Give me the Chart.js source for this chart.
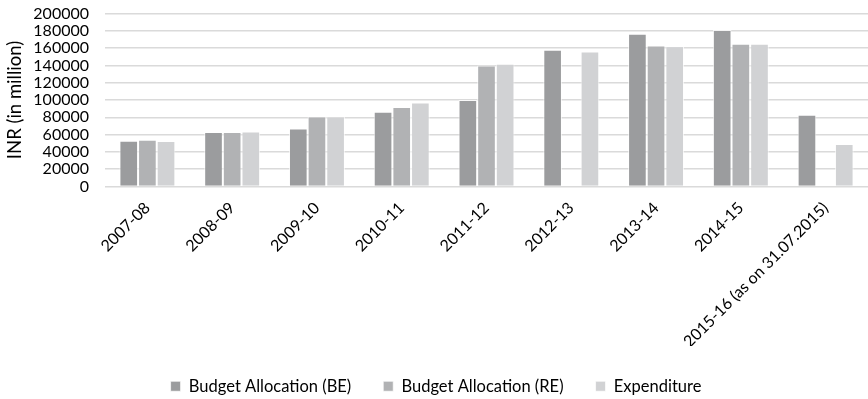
<!DOCTYPE html>
<html>
<head>
<meta charset="utf-8">
<script src="https://cdn.jsdelivr.net/npm/chart.js@4"></script>
<style>
  html, body { margin: 0; padding: 0; background: #fff; }
  #wrap { width: 868px; height: 399px; }
</style>
</head>
<body>
<div id="wrap"><canvas id="budgetChart"></canvas></div>
<script>
// 年度ラベル
const years = [
    "2007-08", "2008-09", "2009-10", "2010-11", "2011-12",
    "2012-13", "2013-14", "2014-15", "2015-16 (as on 31.07.2015)"
];

// 予算 (BE) / 修正予算 (RE) / 支出 — INR (in million)
const budgetBE = [53000, 63000, 67000, 86500, 100000, 158000, 176500, 181000, 83000];
const budgetRE = [54000, 63000, 81000, 92000, 140000, null, 163000, 165000, null];
const expenditure = [52500, 63500, 81000, 97000, 142000, 156000, 162000, 165000, 49000];

// 縦軸の目盛り
const yMin = 0;
const yMax = 200000;
const yStep = 20000;

const FONT = "Lato, 'Open Sans', sans-serif";

function makeDataset(label, data, color) {
    return {
        label: label,
        data: data,
        backgroundColor: color,
        borderColor: "rgba(255,255,255,0.7)",
        borderWidth: 1,
        borderSkipped: "bottom",
        barPercentage: 1.0,
        categoryPercentage: 0.66
    };
}

const canvas = document.getElementById("budgetChart");
canvas.chartInstance = new Chart(canvas, {
    type: "bar",
    data: {
        labels: years,
        datasets: [
            makeDataset("Budget Allocation (BE)", budgetBE, "#9b9c9e"),
            makeDataset("Budget Allocation (RE)", budgetRE, "#b1b2b4"),
            makeDataset("Expenditure", expenditure, "#d1d2d4")
        ]
    },
    options: {
        responsive: true,
        maintainAspectRatio: false,
        animation: false,
        layout: { padding: { top: 13.5, right: 0, bottom: -5.5, left: 4 } },
        plugins: {
            legend: {
                position: "bottom",
                labels: {
                    boxWidth: 10,
                    boxHeight: 10,
                    padding: 32,
                    color: "#000",
                    font: { family: FONT, size: 16.5 }
                }
            },
            tooltip: { enabled: false }
        },
        scales: {
            y: {
                min: yMin,
                max: yMax,
                ticks: {
                    stepSize: yStep,
                    autoSkip: false,
                    color: "#000",
                    padding: 16,
                    font: { family: FONT, size: 16 },
                    callback: (value) => String(value)
                },
                border: { display: false },
                grid: { color: "#dadada", lineWidth: 1.5, drawTicks: false },
                title: {
                    display: true,
                    text: "INR (in million)",
                    color: "#000",
                    padding: 0,
                    font: { family: FONT, size: 18.5 }
                },
                // 目盛り文字の上下はみ出し分の余白は取らない
                afterFit: (scale) => {
                    scale.width = 101;
                    scale.paddingTop = 0;
                    scale.paddingBottom = 0;
                }
            },
            x: {
                grid: { display: false },
                border: { display: false },
                ticks: {
                    color: "#000",
                    minRotation: 45,
                    maxRotation: 45,
                    autoSkip: false,
                    padding: 4,
                    font: { family: FONT, size: 16 }
                },
                afterFit: (scale) => { scale.height = 159.5; }
            }
        }
    }
});
</script>
</body>
</html>
